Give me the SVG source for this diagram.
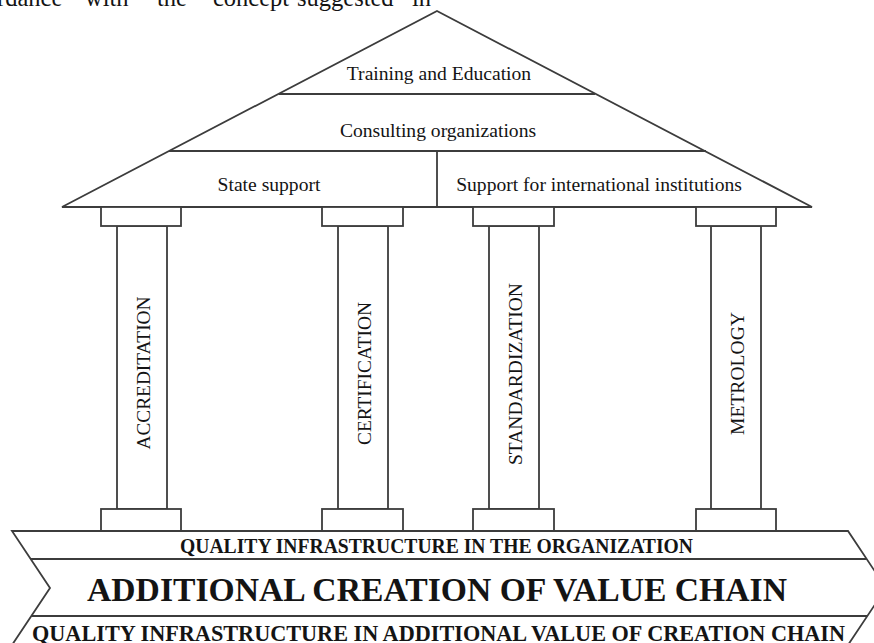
<svg xmlns="http://www.w3.org/2000/svg" width="874" height="643" viewBox="0 0 874 643">
  <style>
    .ln { fill: none; stroke: #3c3c3c; stroke-width: 1.8; stroke-linejoin: miter; }
    .bx { fill: #ffffff; stroke: #3c3c3c; stroke-width: 1.8; }
    .t  { font-family: "Liberation Serif", "Times New Roman", serif; fill: #141414; }
    .roof { font-size: 19.6px; text-anchor: middle; }
    .pil { font-size: 18.6px; text-anchor: middle; }
    .band { font-weight: bold; text-anchor: middle; }
  </style>
  <rect width="874" height="643" fill="#ffffff"/>

  <!-- running text line above the figure, cut at the top edge -->
  <text class="t" font-size="24.5" y="6">
    <tspan x="-3">rdance</tspan><tspan x="85">with</tspan><tspan x="157">the</tspan><tspan x="213">concept</tspan><tspan x="297">suggested</tspan><tspan x="412">in</tspan>
  </text>

  <!-- roof -->
  <g id="roof">
    <polygon class="bx" points="437,11 812,207 62,207"/>
    <line class="ln" x1="279" y1="94" x2="595" y2="94"/>
    <line class="ln" x1="169" y1="151" x2="706" y2="151"/>
    <line class="ln" x1="437" y1="151" x2="437" y2="207"/>
  </g>
  <g id="training">
    <text class="t roof" x="439" y="80">Training and Education</text>
  </g>
  <g id="consulting">
    <text class="t roof" x="438" y="137">Consulting organizations</text>
  </g>
  <g id="state-support">
    <text class="t roof" x="269" y="191">State support</text>
  </g>
  <g id="international-support">
    <text class="t roof" x="599" y="191">Support for international institutions</text>
  </g>

  <!-- pillars -->
  <g id="accreditation">
    <rect class="bx" x="117" y="226" width="50" height="283"/>
    <rect class="bx" x="101" y="207" width="80" height="19"/>
    <rect class="bx" x="101" y="509" width="80" height="22"/>
    <text class="t pil" transform="translate(149.5,373) rotate(-90)" textLength="153" lengthAdjust="spacingAndGlyphs">ACCREDITATION</text>
  </g>
  <g id="certification">
    <rect class="bx" x="338" y="226" width="50" height="283"/>
    <rect class="bx" x="322" y="207" width="81" height="19"/>
    <rect class="bx" x="322" y="509" width="81" height="22"/>
    <text class="t pil" transform="translate(371,373.5) rotate(-90)" textLength="143" lengthAdjust="spacingAndGlyphs">CERTIFICATION</text>
  </g>
  <g id="standardization">
    <rect class="bx" x="489" y="226" width="50" height="283"/>
    <rect class="bx" x="473" y="207" width="81" height="19"/>
    <rect class="bx" x="473" y="509" width="81" height="22"/>
    <text class="t pil" transform="translate(521.5,374) rotate(-90)" textLength="182" lengthAdjust="spacingAndGlyphs">STANDARDIZATION</text>
  </g>
  <g id="metrology">
    <rect class="bx" x="711" y="226" width="50" height="283"/>
    <rect class="bx" x="696" y="207" width="80" height="19"/>
    <rect class="bx" x="696" y="509" width="80" height="22"/>
    <text class="t pil" transform="translate(743.5,373.5) rotate(-90)" textLength="123" lengthAdjust="spacingAndGlyphs">METROLOGY</text>
  </g>

  <!-- foundation band -->
  <g id="foundation">
    <polygon class="bx" points="12,531 848,531 886,588 848,645 12,645 50,588"/>
    <line class="ln" x1="30.7" y1="559" x2="866.7" y2="559"/>
    <line class="ln" x1="31.3" y1="616" x2="867.3" y2="616"/>
  </g>
  <g id="quality-organization">
    <text class="t band" font-size="21" x="436.5" y="552.5" textLength="513" lengthAdjust="spacingAndGlyphs">QUALITY INFRASTRUCTURE IN THE ORGANIZATION</text>
  </g>
  <g id="value-chain">
    <text class="t band" font-size="33" x="437" y="601" textLength="700" lengthAdjust="spacingAndGlyphs">ADDITIONAL CREATION OF VALUE CHAIN</text>
  </g>
  <g id="quality-value-chain">
    <text class="t band" font-size="23.5" x="438.5" y="641" textLength="813" lengthAdjust="spacingAndGlyphs">QUALITY INFRASTRUCTURE IN ADDITIONAL VALUE OF CREATION CHAIN</text>
  </g>
</svg>
